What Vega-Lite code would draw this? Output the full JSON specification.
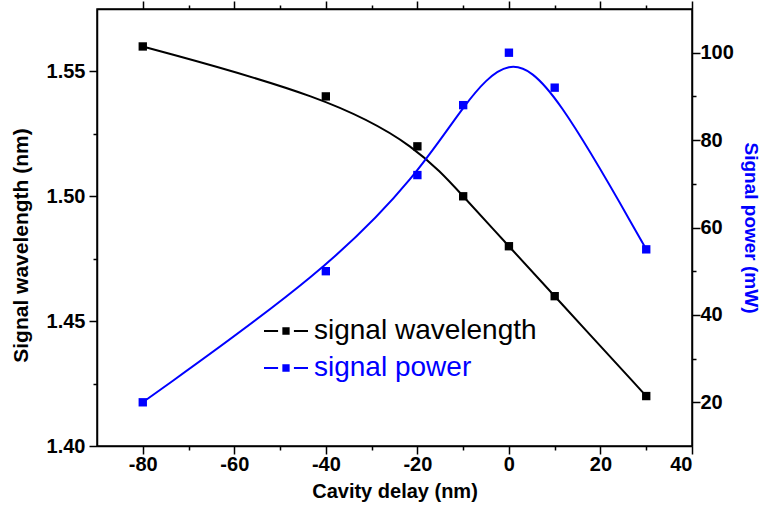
{
  "$schema": "https://vega.github.io/schema/vega-lite/v6.json",
  "width": 595,
  "height": 437,
  "autosize": {"type": "none"},
  "padding": {"left": 97, "top": 9, "right": 73, "bottom": 60},
  "background": "white",
  "config": {
    "view": {"stroke": "black", "strokeWidth": 1.5},
    "axis": {
      "labelFont": "Liberation Sans", "labelFontWeight": "bold", "labelFontSize": 20, "labelColor": "black",
      "titleFont": "Liberation Sans", "titleFontWeight": "bold", "titleFontSize": 20, "titleColor": "black",
      "domainColor": "black", "domainWidth": 1.5, "tickColor": "black", "tickWidth": 1.5, "grid": false
    }
  },
  "data": {
    "values": [
      {"delay": -80, "series": "signal wavelength", "value": 1.56},
      {"delay": -40, "series": "signal wavelength", "value": 1.54},
      {"delay": -20, "series": "signal wavelength", "value": 1.52},
      {"delay": -10, "series": "signal wavelength", "value": 1.50},
      {"delay": 0, "series": "signal wavelength", "value": 1.48},
      {"delay": 10, "series": "signal wavelength", "value": 1.46},
      {"delay": 30, "series": "signal wavelength", "value": 1.42},
      {"delay": -80, "series": "signal power", "value": 20},
      {"delay": -40, "series": "signal power", "value": 50},
      {"delay": -20, "series": "signal power", "value": 72},
      {"delay": -10, "series": "signal power", "value": 88},
      {"delay": 0, "series": "signal power", "value": 100},
      {"delay": 10, "series": "signal power", "value": 92},
      {"delay": 30, "series": "signal power", "value": 55}
    ]
  },
  "layer": [
    {
      "transform": [{"filter": "datum.series === 'signal wavelength'"}],
      "mark": {"type": "line", "interpolate": "basis", "strokeWidth": 2},
      "encoding": {
        "x": {
          "field": "delay", "type": "quantitative",
          "scale": {"domain": [-90, 40], "nice": false, "zero": false},
          "axis": {
            "orient": "bottom", "title": "Cavity delay (nm)",
            "values": [-80, -70, -60, -50, -40, -30, -20, -10, 0, 10, 20, 30, 40],
            "labelExpr": "datum.value % 20 === 0 ? replace(datum.label, '\u2212', '-') : ''",
            "tickSize": {"condition": {"test": "datum.value % 20 === 0", "value": 8}, "value": 4},
            "labelPadding": 0, "titlePadding": 7
          }
        },
        "y": {
          "field": "value", "type": "quantitative",
          "scale": {"domain": [1.4, 1.575], "nice": false, "zero": false},
          "axis": {
            "orient": "left", "title": "Signal wavelength (nm)", "format": ".2f", "titleFontSize": 21, "titleY": 236,
            "values": [1.4, 1.425, 1.45, 1.475, 1.5, 1.525, 1.55],
            "labelExpr": "round(datum.value*1000) % 50 === 0 ? datum.label : ''",
            "tickSize": {"condition": {"test": "round(datum.value*1000) % 50 === 0", "value": 8}, "value": 4},
            "labelPadding": 4, "titlePadding": 15
          }
        },
        "color": {
          "field": "series", "type": "nominal",
          "scale": {"domain": ["signal wavelength", "signal power"], "range": ["#000000", "#0000ff"]},
          "legend": {
            "orient": "none", "legendX": 166, "legendY": 299, "title": null, "padding": 0,
            "symbolType": "M-1,0H-0.36M0.36,0H1M-0.12,-0.12H0.12V0.12H-0.12Z",
            "symbolSize": 1936, "symbolStrokeWidth": 2,
            "labelFont": "Liberation Sans", "labelFontSize": 28, "labelOffset": 5, "rowPadding": 0, "labelLimit": 0,
            "encode": {
              "labels": {"update": {"fill": {"signal": "datum.label === 'signal power' ? '#0000ff' : '#000000'"}}},
              "symbols": {"update": {
                "fill": {"signal": "datum.label === 'signal power' ? '#0000ff' : '#000000'"},
                "stroke": {"signal": "datum.label === 'signal power' ? '#0000ff' : '#000000'"},
                "strokeWidth": {"value": 2}, "opacity": {"value": 1}, "fillOpacity": {"value": 1}
              }}
            }
          }
        }
      }
    },
    {
      "transform": [{"filter": "datum.series === 'signal wavelength'"}],
      "mark": {"type": "point", "shape": "square", "filled": true, "size": 70, "color": "#000000", "opacity": 1},
      "encoding": {
        "x": {
          "field": "delay", "type": "quantitative",
          "scale": {"domain": [-90, 40], "nice": false, "zero": false},
          "axis": {
            "orient": "top", "title": null, "labels": false,
            "values": [-80, -70, -60, -50, -40, -30, -20, -10, 0, 10, 20, 30, 40],
            "tickSize": {"condition": {"test": "datum.value % 20 === 0", "value": 8}, "value": 4}
          }
        },
        "y": {
          "field": "value", "type": "quantitative",
          "scale": {"domain": [1.4, 1.575], "nice": false, "zero": false},
          "axis": null
        }
      }
    },
    {
      "transform": [{"filter": "datum.series === 'signal power'"}],
      "mark": {"type": "line", "interpolate": "basis", "strokeWidth": 2, "color": "#0000ff"},
      "encoding": {
        "x": {"field": "delay", "type": "quantitative", "scale": {"domain": [-90, 40], "nice": false, "zero": false}, "axis": null},
        "y": {
          "field": "value", "type": "quantitative",
          "scale": {"domain": [10, 110], "nice": false, "zero": false},
          "axis": {
            "orient": "right", "title": "Signal power (mW)", "titleColor": "#0000ff", "titleFontSize": 19,
            "values": [20, 30, 40, 50, 60, 70, 80, 90, 100],
            "labelExpr": "datum.value % 20 === 0 ? datum.label : ''",
            "tickSize": {"condition": {"test": "datum.value % 20 === 0", "value": 8}, "value": 4},
            "labelPadding": 0, "titlePadding": 7
          }
        }
      }
    },
    {
      "transform": [{"filter": "datum.series === 'signal power'"}],
      "mark": {"type": "point", "shape": "square", "filled": true, "size": 70, "color": "#0000ff", "opacity": 1},
      "encoding": {
        "x": {"field": "delay", "type": "quantitative", "scale": {"domain": [-90, 40], "nice": false, "zero": false}, "axis": null},
        "y": {"field": "value", "type": "quantitative", "scale": {"domain": [10, 110], "nice": false, "zero": false}, "axis": null}
      }
    }
  ],
  "resolve": {"scale": {"y": "independent"}, "axis": {"x": "independent", "y": "independent"}}
}
